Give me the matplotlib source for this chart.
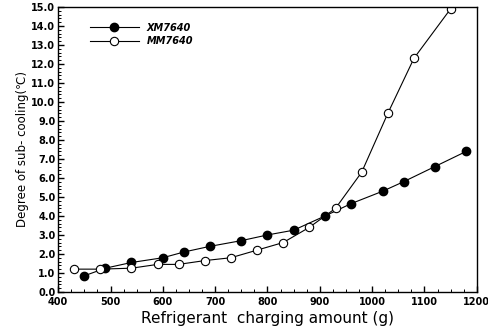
import numpy as np
import matplotlib.pyplot as plt
from matplotlib.ticker import MultipleLocator, FormatStrFormatter

# 读图估计的数据
xm_x = [450, 490, 540, 600, 640, 690, 750, 800, 850, 910, 960, 1020, 1060, 1120, 1180]
xm_y = [0.85, 1.25, 1.55, 1.8, 2.1, 2.4, 2.7, 3.0, 3.25, 4.0, 4.65, 5.3, 5.8, 6.6, 7.4]

mm_x = [430, 480, 540, 590, 630, 680, 730, 780, 830, 880, 930, 980, 1030, 1080, 1150]
mm_y = [1.2, 1.2, 1.25, 1.45, 1.45, 1.65, 1.8, 2.2, 2.6, 3.4, 4.4, 6.3, 9.4, 12.3, 14.9]

plt.rcParams['font.family'] = ['DejaVu Sans']

fig = plt.figure(figsize=(4.89, 3.31), dpi=100)
ax = fig.add_axes([0.119, 0.118, 0.856, 0.861])

ax.plot(xm_x, xm_y, '-o', color='black', lw=0.8, ms=6,
        mfc='black', mec='black', label='XM7640')
ax.plot(mm_x, mm_y, '-o', color='black', lw=0.8, ms=6,
        mfc='white', mec='black', mew=0.8, label='MM7640')

ax.set_xlim(400, 1200)
ax.set_ylim(0, 15)
ax.xaxis.set_major_locator(MultipleLocator(100))
ax.xaxis.set_minor_locator(MultipleLocator(25))
ax.yaxis.set_major_locator(MultipleLocator(1))
ax.yaxis.set_minor_locator(MultipleLocator(0.2))
ax.yaxis.set_major_formatter(FormatStrFormatter('%.1f'))
ax.tick_params(which='both', direction='in', top=False, right=False)
ax.tick_params(which='major', length=4, width=1.0, labelsize=7)
ax.tick_params(axis='x', which='major', pad=3.5)
ax.tick_params(axis='y', which='major', pad=2)
ax.tick_params(which='minor', length=2, width=0.7)
for lab in ax.get_xticklabels() + ax.get_yticklabels():
    lab.set_fontweight('bold')
for s in ax.spines.values():
    s.set_linewidth(1.0)

ax.set_xlabel('Refrigerant  charging amount (g)', fontsize=11, labelpad=3)
ax.set_ylabel('Degree of sub- cooling(\u2103)', fontsize=8.5, labelpad=2)

leg = ax.legend(loc='upper left', bbox_to_anchor=(0.055, 0.975), frameon=False,
                fontsize=7, handlelength=5, labelspacing=0.35)
for t in leg.get_texts():
    t.set_fontweight('bold')
    t.set_fontstyle('italic')

fig.savefig('out.png', dpi=100)
